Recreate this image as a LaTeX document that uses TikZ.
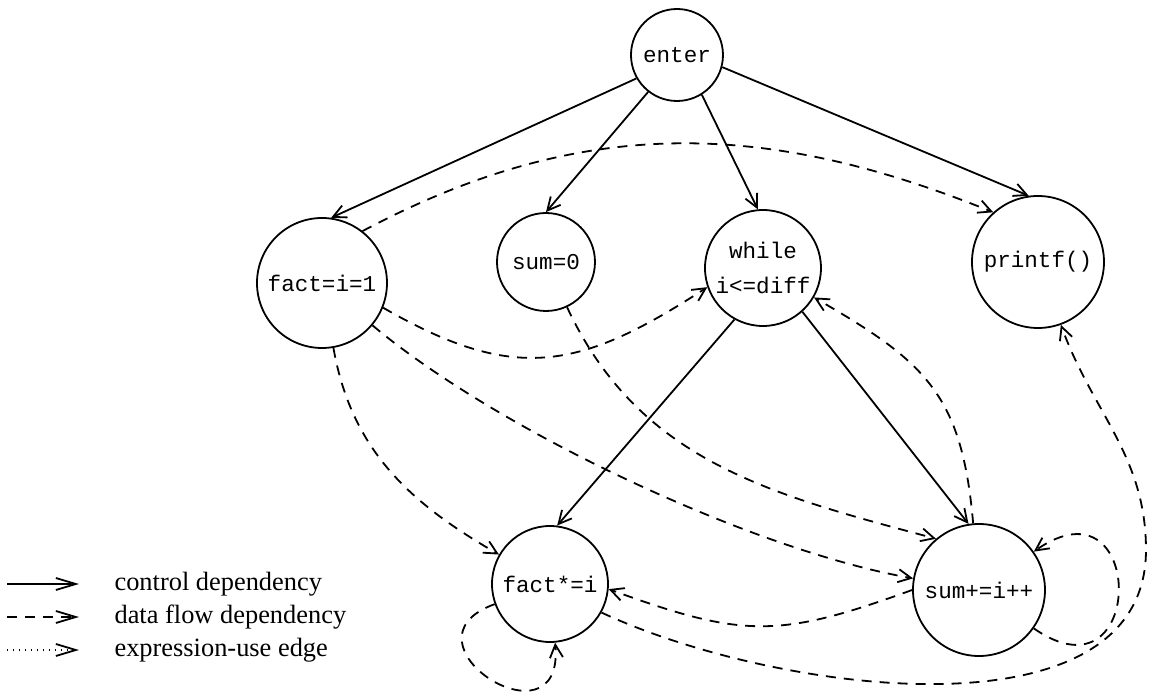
\documentclass[tikz,border=0pt]{standalone}
\usepackage{fontspec}
\setmainfont{Liberation Serif}
\setmonofont{Liberation Mono}
\usetikzlibrary{positioning, arrows.meta}

\begin{document}
\begin{tikzpicture}[on grid, line width=0.9pt,
    >={Straight Barb[length=6.5pt,width=6.5pt]},
    stmt/.style={circle, draw, inner sep=0pt, align=center,
      font=\fontsize{11.3}{17.5}\selectfont\ttfamily},
    ctrl/.style={->},
    data/.style={->, dash pattern=on 5pt off 4pt},
    expr/.style={->, dash pattern=on 0.6pt off 2.4pt},
    legend/.style={anchor=west, font=\fontsize{13.2}{15}\selectfont},
    legtip/.style={>={Straight Barb[length=10pt,width=6pt]}}]
   \useasboundingbox (-338.5pt,-322.5pt) rectangle (237.5pt,27.5pt);
   % statements
   \node[stmt, minimum size=46pt] (enter) {enter};
   \node[stmt, minimum size=65pt, below left=114pt and 177.5pt of enter] (init) {fact=i=1};
   \node[stmt, minimum size=49pt, below left=103.5pt and 65.5pt of enter] (sumzero) {sum=0};
   \node[stmt, minimum size=58pt, below right=106.5pt and 43pt of enter] (while) {while\\i<=diff};
   \node[stmt, minimum size=66pt, below right=103.5pt and 180.5pt of enter] (printf) {printf()};
   \node[stmt, minimum size=58pt, below right=161pt and 2pt of sumzero] (factmul) {fact*=i};
   \node[stmt, minimum size=66pt, below right=161pt and 108pt of while] (summul) {sum+=i++};
   \coordinate (turn) at (234.5pt,-247.5pt);
   % control dependencies
   \path[ctrl]
    (enter.210) edge (init.82)
    (enter.232) edge (sumzero.90)
    (enter.-58) edge (while.95)
    (enter.-15) edge (printf.98)
    (while.-119) edge (factmul.83)
    (while.-48) edge (summul.99);
   % data flow dependencies
   \path[data]
    (init.52) edge [out=28, in=158] (printf.132)
    (init.-22) edge [out=-30, in=213, looseness=1.2] (while.199)
    (init) edge [out=-80, in=150] (factmul)
    (init) edge [out=-40, in=170, looseness=0.7] (summul)
    (sumzero) edge [out=-65, in=165] (summul.130)
    (summul) edge [out=95, in=-30, looseness=1.2] (while)
    (summul.west) edge [out=200, in=-20, looseness=1.2] (factmul.-5)
    (summul) edge [loop, out=-35, in=35, distance=69pt] (summul)
    (factmul) edge [loop, out=200, in=-85, distance=55pt] (factmul);
   \draw[data] (factmul.-29) to[out=-25, in=-90, looseness=0.9] (turn)
      to[out=90, in=-70] (printf.-70);
   % legend
   \node[legend] (lctrl) at (-285pt,-264.5pt) {control dependency};
   \node[legend] (ldata) at (-285pt,-281pt) {data flow dependency};
   \node[legend] (lexpr) at (-285pt,-297.5pt) {expression-use edge};
   \draw[ctrl, legtip] ([xshift=-50pt]lctrl.west) -- ([xshift=-14pt]lctrl.west);
   \draw[data, legtip] ([xshift=-50pt]ldata.west) -- ([xshift=-14pt]ldata.west);
   \draw[expr, legtip] ([xshift=-50pt]lexpr.west) -- ([xshift=-14pt]lexpr.west);
\end{tikzpicture}
\end{document}
